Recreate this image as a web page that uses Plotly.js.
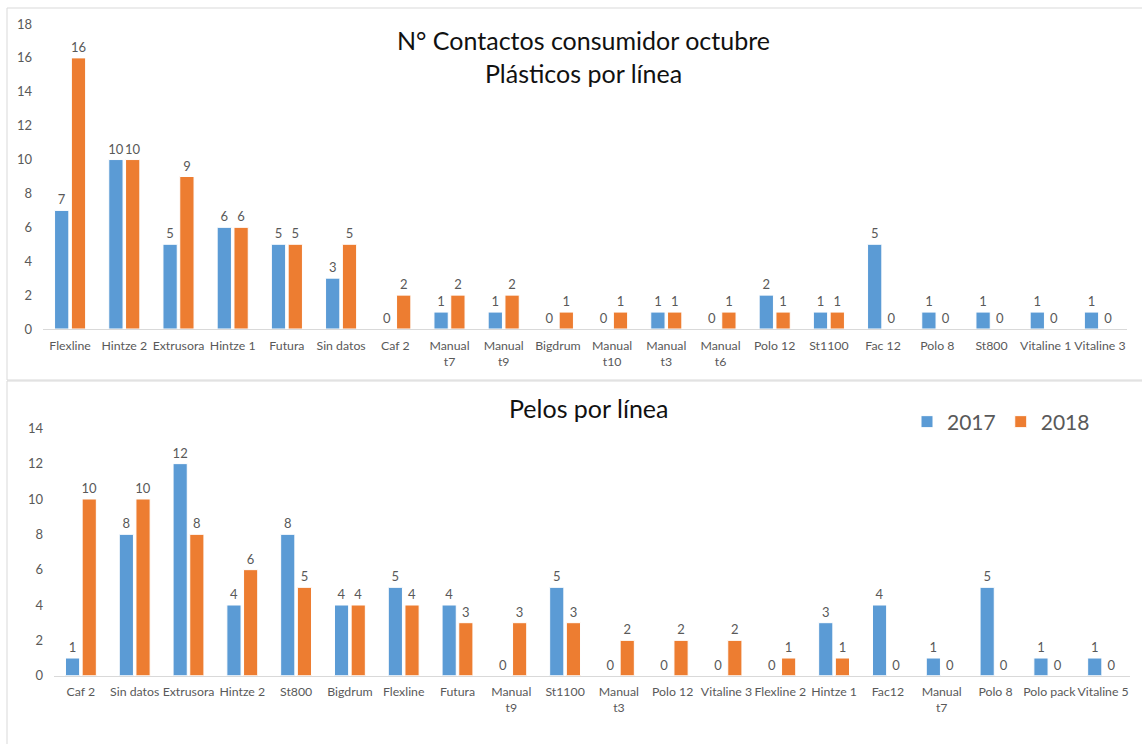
<!DOCTYPE html>
<html>
<head>
<meta charset="utf-8">
<script src="https://cdn.plot.ly/plotly-3.0.1.min.js"></script>
<style>html,body{margin:0;padding:0;background:#fff;}#chart{width:1142px;height:744px;}</style>
</head>
<body>
<div id="chart"></div>
<script>
// Top chart: Plásticos por línea
const plasticCategories = ["Flexline","Hintze 2","Extrusora","Hintze 1","Futura","Sin datos","Caf 2","Manual<br>t7","Manual<br>t9","Bigdrum","Manual<br>t10","Manual<br>t3","Manual<br>t6","Polo 12","St1100","Fac 12","Polo 8","St800","Vitaline 1","Vitaline 3"];
const plastic2017 = [7,10,5,6,5,3,0,1,1,0,0,1,0,2,1,5,1,1,1,1];
const plastic2018 = [16,10,9,6,5,5,2,2,2,1,1,1,1,1,1,0,0,0,0,0];

// Bottom chart: Pelos por línea
const pelosCategories = ["Caf 2","Sin datos","Extrusora","Hintze 2","St800","Bigdrum","Flexline","Futura","Manual<br>t9","St1100","Manual<br>t3","Polo 12","Vitaline 3","Flexline 2","Hintze 1","Fac12","Manual<br>t7","Polo 8","Polo pack","Vitaline 5"];
const pelos2017 = [1,8,12,4,8,4,5,4,0,5,0,0,0,0,3,4,1,5,1,1];
const pelos2018 = [10,10,8,6,5,4,4,3,3,3,2,2,2,1,1,0,0,0,0,0];

const seriesNames = ["2017","2018"];
const blue = "#5b9bd5", orange = "#ed7d31";
const FONT = "Lato, 'Noto Sans', sans-serif";
const W = 1142, H = 744;
const px = v => v / W, py = v => 1 - v / H;

function barTrace(x, y, name, color, xa, ya, showlegend) {
  return {
    type: "bar", x: x, y: y, name: name, xaxis: xa, yaxis: ya,
    marker: {color: color, line: {color: "#ffffff", width: 1}},
    text: y.map(String), textposition: "outside", cliponaxis: false,
    constraintext: "none",
    textfont: {family: FONT, size: 13, color: "#595959"},
    showlegend: showlegend, hoverinfo: "x+y+name"
  };
}

const data = [
  barTrace(plasticCategories, plastic2017, seriesNames[0], blue, "x", "y", true),
  barTrace(plasticCategories, plastic2018, seriesNames[1], orange, "x", "y", true),
  barTrace(pelosCategories, pelos2017, seriesNames[0], blue, "x2", "y2", false),
  barTrace(pelosCategories, pelos2018, seriesNames[1], orange, "x2", "y2", false)
];

const xaxisBase = {
  type: "category", showline: true, linecolor: "#d9d9d9", linewidth: 1,
  showgrid: false, zeroline: false, ticks: "",
  tickfont: {family: FONT, size: 12.3, color: "#595959"}, tickangle: 0,
  ticklabelstandoff: 5, fixedrange: true
};
const yaxisBase = {
  showgrid: false, zeroline: false, showline: false, ticks: "",
  dtick: 2, tickfont: {family: FONT, size: 13, color: "#595959"},
  ticklabelstandoff: 10, fixedrange: true
};

const layout = {
  width: W, height: H,
  margin: {l: 0, r: 0, t: 0, b: 0},
  paper_bgcolor: "#ffffff", plot_bgcolor: "#ffffff",
  barmode: "group", bargap: 0.38, bargroupgap: 0.15,
  font: {family: FONT},
  xaxis: Object.assign({}, xaxisBase, {domain: [px(43), px(1127)], anchor: "y"}),
  yaxis: Object.assign({}, yaxisBase, {domain: [py(329), py(24)], range: [0, 18], anchor: "x"}),
  xaxis2: Object.assign({}, xaxisBase, {domain: [px(54), px(1130)], anchor: "y2"}),
  yaxis2: Object.assign({}, yaxisBase, {domain: [py(675.7), py(428.3)], range: [0, 14], anchor: "x2"}),
  legend: {
    orientation: "h", x: px(907), y: py(422), yanchor: "middle", xanchor: "left",
    font: {family: FONT, size: 21, color: "#595959"}, bgcolor: "rgba(0,0,0,0)",
    itemwidth: 30
  },
  annotations: [
    {text: "N° Contactos consumidor octubre<br>Plásticos por línea", xref: "paper", yref: "paper",
     x: px(583), y: py(56), xanchor: "center", yanchor: "middle", showarrow: false,
     font: {family: FONT, size: 25, color: "#111111"}},
    {text: "Pelos por línea", xref: "paper", yref: "paper",
     x: px(589), y: py(408), xanchor: "center", yanchor: "middle", showarrow: false,
     font: {family: FONT, size: 25, color: "#111111"}}
  ],
  shapes: [
    {type: "rect", xref: "paper", yref: "paper", x0: px(7), x1: px(1150), y0: py(380), y1: py(8),
     line: {color: "#d9d9d9", width: 1}},
    {type: "rect", xref: "paper", yref: "paper", x0: px(7), x1: px(1150), y0: py(760), y1: py(381),
     line: {color: "#d9d9d9", width: 1}}
  ]
};

Plotly.newPlot("chart", data, layout, {displayModeBar: false, staticPlot: true});
</script>
</body>
</html>
